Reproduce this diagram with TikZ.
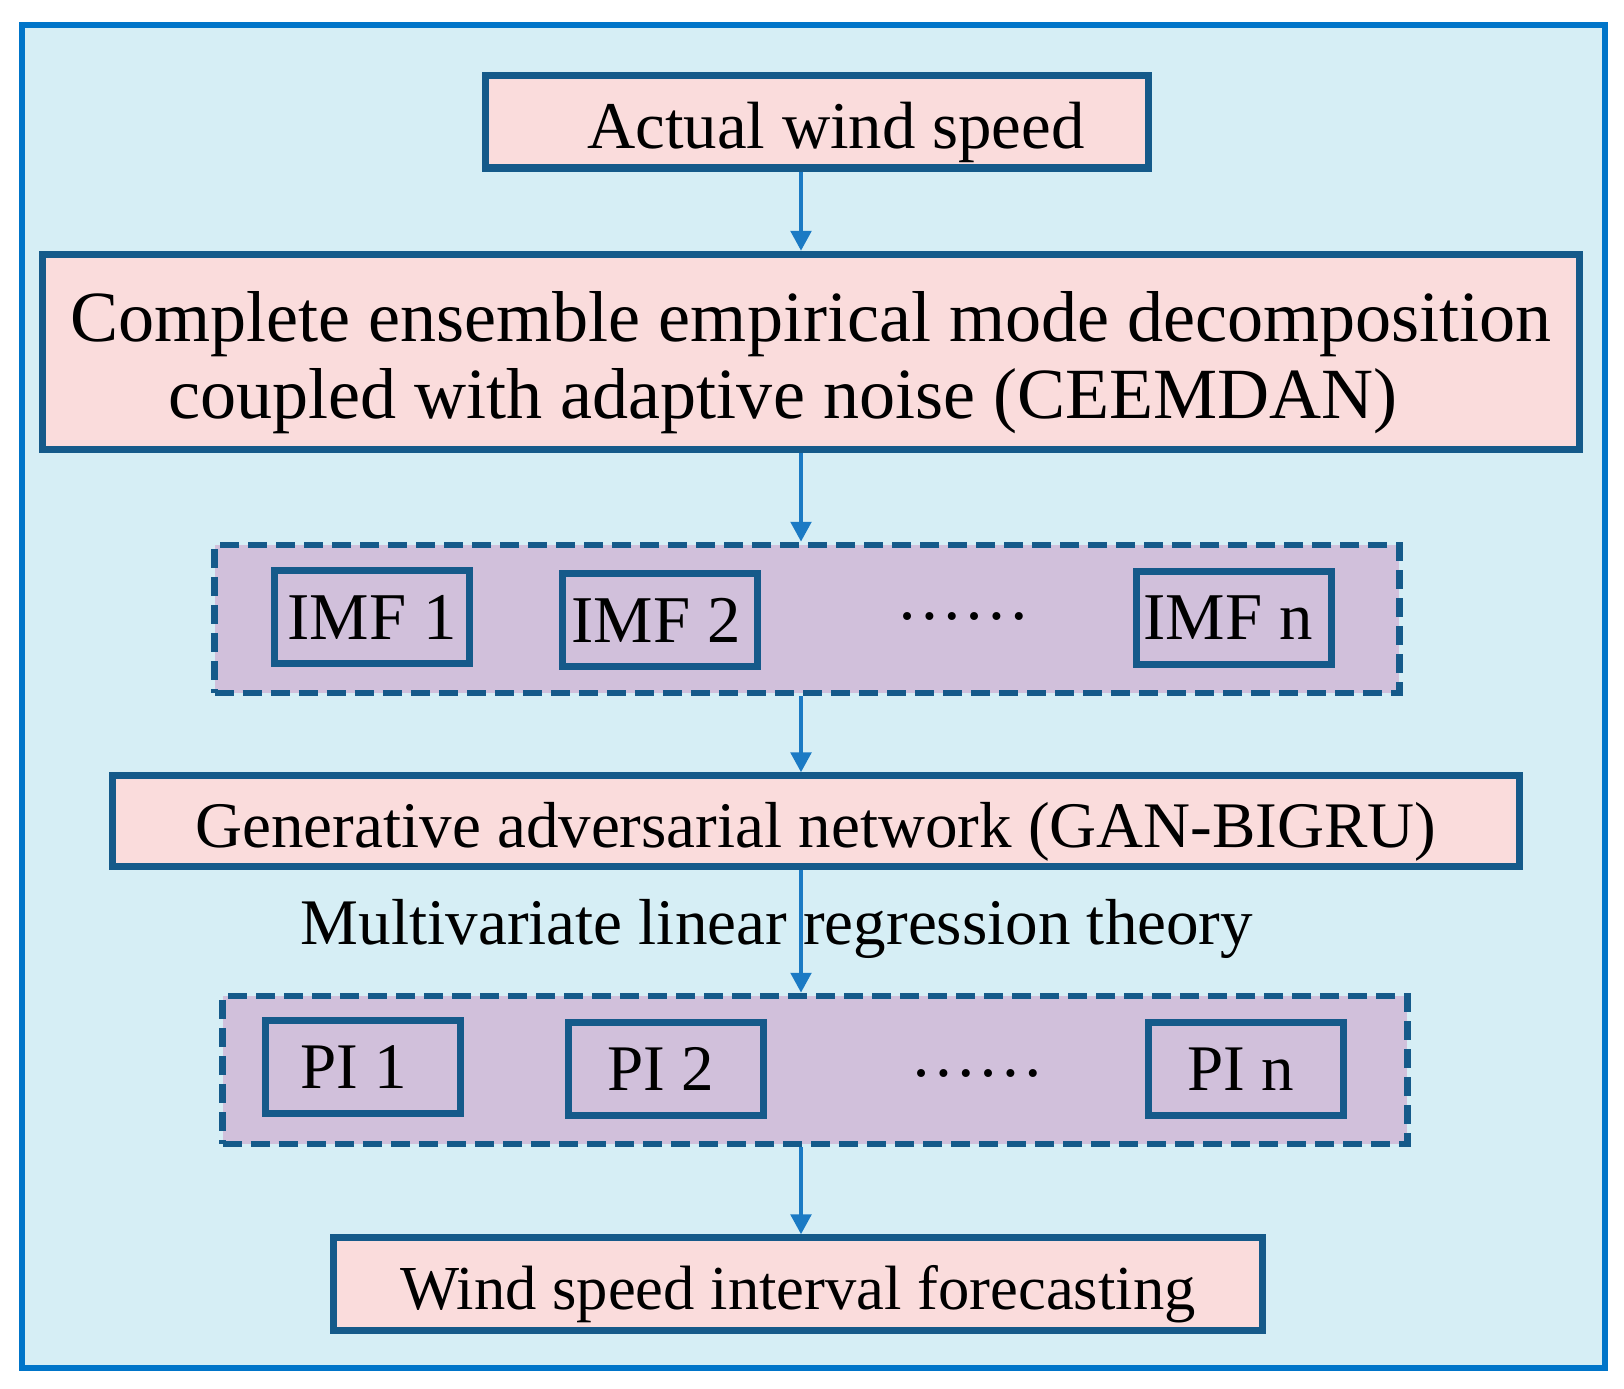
\documentclass[tikz,border=0pt]{standalone}
\usepackage{fontspec}
\setmainfont{Liberation Serif}
\usetikzlibrary{arrows.meta}

\definecolor{skyfill}{HTML}{D6EEF5}
\definecolor{frameblue}{HTML}{0075C9}
\definecolor{pinkfill}{HTML}{FADCDC}
\definecolor{boxline}{HTML}{155A8A}
\definecolor{lavfill}{HTML}{D1C0DB}
\definecolor{arrowblue}{HTML}{1B7AC4}

% text sits a little low in the boxes
\newcommand\lowered[1]{\raisebox{-3pt}[\height][\depth]{#1}}

\tikzset{
  stage/.style={draw=boxline, fill=pinkfill, line width=2pt, inner sep=0pt,
    font=\fontsize{20.5}{22}\selectfont, align=center},
  modebox/.style={draw=boxline, fill=lavfill, line width=2pt, inner sep=0pt,
    minimum width=1.95cm, minimum height=0.92cm},
  group/.style={draw=boxline, fill=lavfill, line width=1.8pt,
    dash pattern=on 0.19cm off 0.09cm, inner sep=0pt,
    minimum width=11.84cm, minimum height=1.48cm},
  flow/.style={draw=arrowblue, line width=1.4pt,
    -{Triangle[width=0.2cm,length=0.2cm]}},
}

\begin{document}
\begin{tikzpicture}[x=0.01cm,y=-0.01cm]
  \useasboundingbox (0,0) rectangle (1624,1389);
  % Outer frame
  \draw[line width=1.8pt, draw=frameblue, fill=skyfill] (22,25) rectangle (1605,1368);
  % Main stages
  \node[stage, minimum width=6.62cm, minimum height=0.92cm, font=\fontsize{19}{22}\selectfont] (speed) at (817,122)
    {\hspace*{0.38cm}\lowered{Actual wind speed}};
  \node[stage, minimum width=15.36cm, minimum height=1.95cm] (ceem) at (811,352)
    {\lowered{Complete ensemble empirical mode decomposition}\\
     \lowered{coupled with adaptive noise (CEEMDAN)}\hspace*{0.56cm}};
  \node[stage, minimum width=14.07cm, minimum height=0.9cm, font=\fontsize{18.5}{22}\selectfont] (gan) at (816,821)
    {\lowered{Generative adversarial network (GAN-BIGRU)}};
  \node[font=\fontsize{18.5}{22}\selectfont] (mlr) at (777,929) {Multivariate linear regression theory};
  \node[stage, minimum width=9.28cm, minimum height=0.92cm, font=\fontsize{17.8}{22}\selectfont] (fore) at (798,1284)
    {\lowered{Wind speed interval forecasting}};
  % IMF group
  \node[group] (imfgrp) at (807,619) {};
  \node[modebox, font=\fontsize{19}{22}\selectfont] (imf1) at (372,617) {IMF 1};
  \node[modebox, font=\fontsize{19}{22}\selectfont] (imf2) at (660,620) {IMF 2\hspace*{0.08cm}};
  \node[font=\fontsize{19}{22}\selectfont] (imfdots) at (963,617) {……};
  \node[modebox, font=\fontsize{19}{22}\selectfont] (imfn) at (1234,618) {IMF n\hspace*{0.12cm}};
  % PI group
  \node[group] (pigrp) at (815,1070) {};
  \node[modebox, font=\fontsize{18.5}{22}\selectfont] (pi1) at (363,1067) {PI 1\hspace*{0.18cm}};
  \node[modebox, font=\fontsize{18.5}{22}\selectfont] (pi2) at (666,1069) {PI 2\hspace*{0.1cm}};
  \node[font=\fontsize{19}{22}\selectfont] (pidots) at (977,1073) {……};
  \node[modebox, font=\fontsize{18.5}{22}\selectfont] (pin) at (1246,1069) {PI n\hspace*{0.1cm}};
  % Arrows
  \coordinate (spine) at (801,0);
  \draw[flow] (speed.south -| spine) -- (ceem.north -| spine);
  \draw[flow] (ceem.south -| spine) -- (imfgrp.north -| spine);
  \draw[flow] (imfgrp.south -| spine) -- (gan.north -| spine);
  \draw[flow] (gan.south -| spine) -- (pigrp.north -| spine);
  \draw[flow] (pigrp.south -| spine) -- (fore.north -| spine);
\end{tikzpicture}
\end{document}
